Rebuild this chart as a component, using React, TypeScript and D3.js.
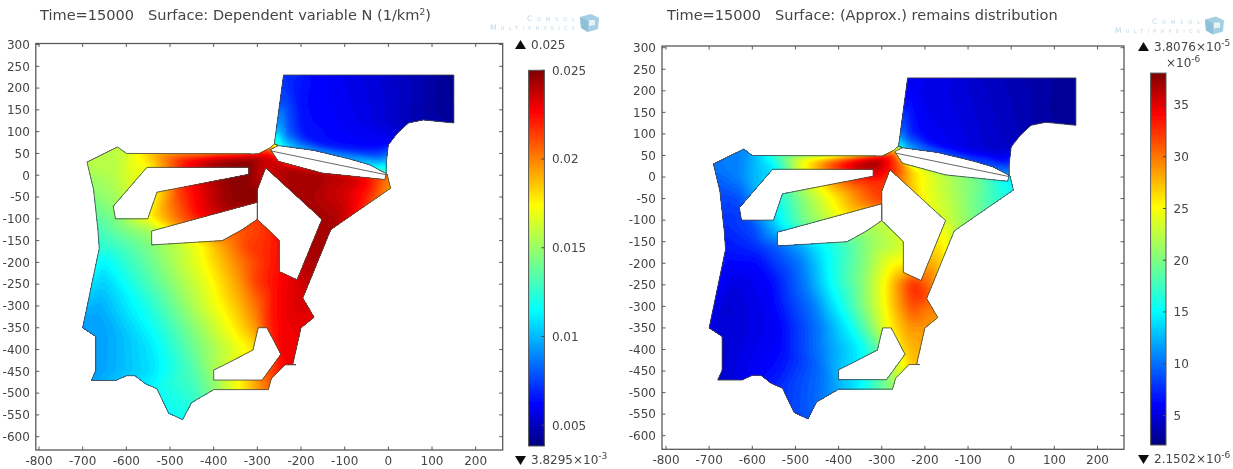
import React, { useMemo } from "react";
import * as d3 from "d3";

// ---------- data (domain coordinates in km, field samples) ----------
const xTicks = [-800, -700, -600, -500, -400, -300, -200, -100, 0, 100, 200];
const yTicks = [300, 250, 200, 150, 100, 50, 0, -50, -100, -150, -200, -250, -300, -350, -400, -450, -500, -550, -600];

const landOutline: [number, number][] = [
  [-690, 30], [-620, 65], [-600, 50], [-298, 49], [-272, 62], [-261, 72], [-252, 68], [-270, 59], [-252, 32],
  [-152, 5], [-8, -10], [-5, 4], [-3, 3], [5, -30], [-125, -120], [-132, -125], [-196, -282], [-170, -326],
  [-200, -350], [-219, -434], [-212, -435], [-237, -435], [-268, -467], [-275, -492], [-400, -492], [-451, -522],
  [-471, -561], [-503, -546], [-530, -490], [-557, -478], [-580, -460], [-600, -460], [-624, -471], [-680, -471],
  [-670, -448], [-670, -370], [-700, -350], [-662, -168], [-665, -125], [-675, -33],
];
const holeNorth: [number, number][] = [[-553, 18], [-320, 18], [-320, 2], [-530, -39], [-551, -100], [-625, -100], [-630, -71]];
const holeMiddle: [number, number][] = [[-300, -62], [-542, -128], [-542, -160], [-380, -150], [-335, -125], [-300, -101]];
const holeEast: [number, number][] = [[-281, 17], [-300, -33], [-300, -101], [-250, -150], [-250, -221], [-209, -240], [-152, -101]];
const holeSouth: [number, number][] = [[-298, -350], [-278, -350], [-246, -411], [-289, -470], [-400, -470], [-400, -447], [-375, -435], [-310, -401]];
const seaOutline: [number, number][] = [
  [-261, 72], [-240, 230], [150, 230], [150, 120], [80, 127], [46, 120], [21, 97], [0, 70], [-5, 28], [-5, 4],
  [-43, 24], [-88, 37], [-170, 57], [-252, 68],
];
const straitLine: [number, number][] = [[-270, 56], [-7, 1.5]];

// x, y, N (1/km^2), remains (x 1e-6)
const landSamples: [number, number, number, number][] = [
  [-690, 30, .0158, 10.5], [-620, 65, .016, 11], [-600, 50, .0165, 12.5], [-630, 0, .0158, 11], [-675, -33, .015, 9],
  [-600, -20, .0165, 12.5], [-665, -125, .0132, 7.5], [-625, -100, .0145, 8.5], [-630, -71, .015, 8.5], [-600, -115, .015, 9],
  [-551, -100, .0175, 14], [-542, -128, .0155, 13], [-553, 18, .0172, 14],
  [-575, 35, .0174, 14], [-525, 35, .0195, 19], [-488, 35, .0215, 25], [-462, 35, .0228, 28], [-406, 35, .0245, 34],
  [-350, 35, .025, 38], [-313, 35, .025, 38], [-298, 49, .0235, 36], [-285, 30, .0238, 34], [-320, 18, .025, 37],
  [-530, -39, .0178, 17.5], [-480, -50, .0215, 21], [-430, -50, .0232, 24.5], [-370, -40, .0247, 29], [-330, -30, .025, 32],
  [-301, -46, .025, 32.5], [-300, -62, .025, 32], [-320, 2, .025, 34],
  [-480, -109, .0205, 20], [-434, -94, .0228, 23], [-370, -75, .0247, 28],
  [-281, 17, .0235, 34], [-300, -10, .024, 33], [-270, 59, .021, 33], [-272, 62, .021, 30], [-261, 72, .016, 18], [-252, 68, .014, 15],
  [-270, 45, .0235, 32], [-252, 32, .024, 30], [-230, 15, .0245, 27], [-215, -8, .0245, 25.5], [-152, 5, .0245, 22.5],
  [-250, -20, .024, 29], [-200, -60, .0245, 25], [-152, -101, .0245, 23.5], [-100, -40, .0235, 20.5], [-70, -2, .0238, 19.5],
  [-40, -8, .0225, 17], [-8, -10, .0205, 15], [5, -30, .0195, 15.5], [-43, -48, .022, 17.5], [-125, -120, .0245, 22],
  [-140, -115, .0245, 24], [-180, -190, .0245, 28], [-209, -240, .0235, 31], [-196, -282, .0235, 32],
  [-662, -168, .0125, 7], [-600, -160, .0135, 7.8], [-542, -160, .0147, 9.8], [-480, -160, .016, 12.7], [-436, -160, .0172, 15], [-380, -160, .0195, 18], [-330, -160, .0215, 21], [-280, -160, .022, 22.5], [-250, -160, .0225, 24],
  [-300, -101, .0215, 23], [-335, -125, .021, 21.5],
  [-655, -200, .0113, 6.4], [-590, -200, .013, 6.5], [-489, -200, .0157, 10.6], [-430, -200, .0173, 15], [-334, -200, .0205, 21], [-281, -200, .022, 25], [-250, -200, .0225, 25.5],
  [-640, -250, .0108, 5.3], [-560, -250, .013, 6.3], [-480, -250, .0153, 10.6], [-425, -250, .0168, 15], [-340, -250, .0197, 21], [-299, -250, .0218, 25], [-265, -250, .0225, 29], [-228, -250, .0232, 33.5],
  [-665, -300, .0098, 4.8], [-560, -300, .012, 6], [-460, -300, .0152, 10.6], [-405, -300, .017, 15], [-350, -300, .0187, 20], [-297, -300, .0208, 25], [-265, -300, .0225, 28.5], [-228, -300, .0233, 32], [-198, -300, .0235, 30],
  [-700, -350, .0095, 5.5], [-640, -350, .0098, 5], [-540, -350, .0118, 6.2], [-445, -350, .0148, 10.6], [-378, -350, .017, 15], [-330, -350, .0187, 20], [-298, -350, .02, 24.5], [-278, -350, .022, 26], [-240, -350, .023, 29], [-200, -350, .0232, 29], [-170, -326, .0232, 29.5],
  [-670, -400, .0095, 4.8], [-540, -400, .0112, 6.3], [-445, -400, .0141, 10.6], [-350, -400, .0169, 15], [-310, -400, .0179, 19], [-246, -411, .023, 27], [-222, -400, .023, 28],
  [-670, -450, .0095, 5], [-600, -455, .0103, 6], [-540, -450, .011, 7], [-445, -450, .0135, 10], [-400, -447, .0155, 13],
  [-400, -492, .0148, 12.5], [-400, -470, .015, 13], [-348, -481, .0174, 15], [-307, -481, .0195, 19], [-275, -492, .0205, 21], [-289, -470, .0205, 20.5], [-268, -467, .0215, 23], [-246, -438, .0228, 26], [-219, -434, .023, 28],
  [-530, -490, .0118, 8], [-557, -478, .0112, 7.2], [-680, -471, .0097, 4.5], [-471, -561, .0118, 9], [-503, -546, .0118, 8.8], [-451, -522, .0125, 10],
];
const seaSamples: [number, number, number, number][] = [
  [-261, 72, .0135, 16], [-252, 68, .0125, 15], [-250, 85, .0105, 10], [-240, 100, .0085, 7.5], [-234, 70, .01, 11], [-200, 75, .0075, 7],
  [-161, 65, .0066, 6], [-200, 100, .0066, 6], [-240, 230, .0072, 6], [-160, 230, .0063, 5.5], [-200, 160, .0065, 5.7], [-116, 172, .0061, 5.2], [-60, 120, .0059, 4.8], [-70, 58, .0064, 5],
  [-25, 36, .0085, 6], [-5, 20, .0115, 9], [-5, 4, .0135, 12], [0, 70, .0061, 4.5], [-40, 230, .0056, 4.3], [20, 180, .0053, 4],
  [150, 230, .0042, 3], [150, 120, .0043, 3], [46, 120, .005, 3.8], [80, 127, .0047, 3.4], [70, 230, .0049, 3.5],
];

const rainbowStops = [0, 0.11, 0.36, 0.64, 0.89, 1];
const rainbowColors = ["#00007f", "#0000ff", "#00ffff", "#ffff00", "#ff0000", "#7f0000"];

const nBarTicks = [0.025, 0.02, 0.015, 0.01, 0.005];
const nBarLabels = ["0.025", "0.02", "0.015", "0.01", "0.005"];
const remainsBarTicks = [35, 30, 25, 20, 15, 10, 5];

// ---------- field ----------
type Row = [number, number, number, number];

function buildGrid(rows: Row[], col: 2 | 3, bbox: number[], step: number) {
  const [x0, y0, x1, y1] = bbox;
  const w = Math.ceil((x1 - x0) / step) + 1;
  const h = Math.ceil((y1 - y0) / step) + 1;
  const del = d3.Delaunay.from(rows, (r) => r[0], (r) => r[1]);
  const tri = del.triangles;
  const n = tri.length / 3;
  const data = new Float64Array(w * h);
  let last = 0;
  for (let j = 0; j < h; j++) {
    const py = y0 + j * step;
    for (let i = 0; i < w; i++) {
      const px = x0 + i * step;
      let val = NaN;
      for (let k = 0; k < n; k++) {
        const t = (k + last) % n;
        const a = rows[tri[3 * t]], b = rows[tri[3 * t + 1]], c = rows[tri[3 * t + 2]];
        const d = (b[1] - c[1]) * (a[0] - c[0]) + (c[0] - b[0]) * (a[1] - c[1]);
        const u = ((b[1] - c[1]) * (px - c[0]) + (c[0] - b[0]) * (py - c[1])) / d;
        const v = ((c[1] - a[1]) * (px - c[0]) + (a[0] - c[0]) * (py - c[1])) / d;
        const z = 1 - u - v;
        if (u >= -1e-9 && v >= -1e-9 && z >= -1e-9) {
          val = u * a[col] + v * b[col] + z * c[col];
          last = t;
          break;
        }
      }
      if (Number.isNaN(val)) val = rows[del.find(px, py)][col];
      data[j * w + i] = val;
    }
  }
  d3.blur2({ data, width: w, height: h }, 2.5);
  return { data, w, h };
}

const ringPath = (ring: [number, number][], x: any, y: any) =>
  "M" + ring.map((p) => `${x(p[0]).toFixed(2)},${y(p[1]).toFixed(2)}`).join("L") + "Z";

function FieldLayer({ rows, col, bbox, x, y, color, vmin, vmax, clipId, clipPath }: any) {
  const paths = useMemo(() => {
    const step = 3;
    const { data, w, h } = buildGrid(rows, col, bbox, step);
    const levels = d3.range(90).map((i) => vmin + ((vmax - vmin) * i) / 89);
    levels[0] = Math.min(levels[0], d3.min(data as any) as number) - 1e-9;
    const project = d3.geoPath(
      d3.geoTransform({
        point(this: any, gx: number, gy: number) {
          this.stream.point(x(bbox[0] + gx * step), y(bbox[1] + gy * step));
        },
      })
    );
    return d3.contours().size([w, h]).thresholds(levels)(data as any).map((c: any) => ({ d: project(c) as string, v: c.value }));
  }, [rows, col]);
  return (
    <g>
      <clipPath id={clipId}>
        <path d={clipPath} clipRule="evenodd" />
      </clipPath>
      <g clipPath={`url(#${clipId})`}>
        {paths.map((p: any, i: number) =>
          p.d ? <path key={i} d={p.d} fill={color(p.v)} fillRule="evenodd" stroke="none" /> : null
        )}
      </g>
    </g>
  );
}

function Sup({ children }: { children: string }) {
  return (
    <tspan dy={-5} fontSize={9}>
      {children}
    </tspan>
  );
}

function Cube({ x, y }: { x: number; y: number }) {
  return (
    <g transform={`translate(${x},${y})`}>
      <polygon points="0,3 11,0 19,4 18,15 8,18 1,14" fill="#a5cfe2" />
      <polygon points="0,3 8,7 8,18 1,14" fill="#8fc0d8" />
      <polygon points="9,6 15,6 15,11 9,12" fill="#e8f3f8" />
    </g>
  );
}

function Plot({ idx, col, L, title, titleSup, titleEnd, barTicks, barLabels, vmin, vmax }: any) {
  const x = d3.scaleLinear().domain([-800, 200]).range(L.xr);
  const y = d3.scaleLinear().domain([-600, 300]).range(L.yr);
  const barY = d3.scaleLinear().domain([vmin, vmax]).range([L.bar[3], L.bar[1]]);
  const color = d3
    .scaleLinear<string>()
    .domain(rainbowStops.map((s) => vmin + s * (vmax - vmin)))
    .range(rainbowColors)
    .clamp(true);
  const [fx0, fy0, fx1, fy1] = L.frame;
  const landPath = [landOutline, holeNorth, holeMiddle, holeEast, holeSouth].map((r) => ringPath(r, x, y)).join(" ");
  const seaPath = ringPath(seaOutline, x, y);
  const gid = `rainbow-${idx}`;
  const txt = "#444";
  const tickC = "#5a5a5a";
  const line = "#4a4a4a";
  return (
    <g>
      <text x={L.titleX} y={20} fontSize={14.55} fill={txt} style={{ whiteSpace: "pre" }}>
        {title}
        {titleSup ? <tspan dy={-5.5} fontSize={9}>{titleSup}</tspan> : null}
        {titleEnd ? <tspan dy={5.5}>{titleEnd}</tspan> : null}
      </text>
      <text x={L.logoX} y={L.logoY} fontSize={7.5} fill="#bcd7e6" textAnchor="end" textLength={48} lengthAdjust="spacing" style={{ fontVariant: "small-caps" }}>Comsol</text>
      <text x={L.logoX} y={L.logoY + 9} fontSize={7.5} fill="#bcd7e6" textAnchor="end" textLength={85} lengthAdjust="spacing" style={{ fontVariant: "small-caps" }}>Multiphysics</text>
      <Cube x={L.logoX + 5} y={L.logoY - 7} />

      <FieldLayer rows={landSamples} col={col} bbox={[-712, -575, 18, 85]} x={x} y={y} color={color} vmin={vmin} vmax={vmax} clipId={`land-${idx}`} clipPath={landPath} />
      <FieldLayer rows={seaSamples} col={col} bbox={[-275, -6, 162, 242]} x={x} y={y} color={color} vmin={vmin} vmax={vmax} clipId={`sea-${idx}`} clipPath={seaPath} />
      <path d={landPath} fill="none" stroke={line} strokeWidth={0.85} strokeLinejoin="round" />
      <path d={seaPath} fill="none" stroke={line} strokeWidth={0.85} strokeLinejoin="round" />
      <line x1={x(straitLine[0][0])} y1={y(straitLine[0][1])} x2={x(straitLine[1][0])} y2={y(straitLine[1][1])} stroke={line} strokeWidth={0.85} />

      <rect x={fx0} y={fy0} width={fx1 - fx0} height={fy1 - fy0} fill="none" stroke={tickC} strokeWidth={1.3} />
      {xTicks.map((t) => (
        <g key={t}>
          <line x1={x(t)} x2={x(t)} y1={fy0} y2={fy0 + 3.5} stroke={tickC} />
          <line x1={x(t)} x2={x(t)} y1={fy1} y2={fy1 - 3.5} stroke={tickC} />
          <text x={x(t)} y={fy1 + 14.5} fontSize={12} textAnchor="middle" fill={txt}>{t}</text>
        </g>
      ))}
      {yTicks.map((t) => (
        <g key={t}>
          <line y1={y(t)} y2={y(t)} x1={fx0} x2={fx0 + 3.5} stroke={tickC} />
          <line y1={y(t)} y2={y(t)} x1={fx1} x2={fx1 - 3.5} stroke={tickC} />
          <text x={fx0 - 6} y={y(t) + 4.3} fontSize={12} textAnchor="end" fill={txt}>{t}</text>
        </g>
      ))}

      <linearGradient id={gid} x1="0" y1="1" x2="0" y2="0">
        {rainbowStops.map((s, i) => (
          <stop key={i} offset={s} stopColor={rainbowColors[i]} />
        ))}
      </linearGradient>
      <rect x={L.bar[0]} y={L.bar[1]} width={L.bar[2] - L.bar[0]} height={L.bar[3] - L.bar[1]} fill={`url(#${gid})`} stroke="#555" strokeWidth={1} />
      {barTicks.map((t: number, i: number) => (
        <g key={t}>
          <line x1={L.bar[2]} x2={L.bar[2] - 3} y1={barY(t)} y2={barY(t)} stroke="#444" />
          <text x={L.bar[2] + 7.5} y={barY(t) + 4.3} fontSize={12} fill={txt}>{barLabels[i]}</text>
        </g>
      ))}
      <path d={`M${L.tri},${L.maxY + 4}h11l-5.5,-9Z`} fill="#111" />
      <path d={`M${L.tri},${L.minY - 4}h11l-5.5,9Z`} fill="#111" />
      <text x={L.tri + 16} y={L.maxY + 4.3} fontSize={12} fill={txt}>
        {L.maxText}
        {L.maxSup ? <Sup>{L.maxSup}</Sup> : null}
      </text>
      <text x={L.tri + 16} y={L.minY + 4.3} fontSize={12} fill={txt}>
        {L.minText}
        <Sup>{L.minSup}</Sup>
      </text>
      {L.unit ? (
        <text x={L.unitX} y={L.unitY} fontSize={12} fill={txt}>
          ×10<Sup>-6</Sup>
        </text>
      ) : null}
    </g>
  );
}

const leftLayout = {
  xr: [39, 475.7], yr: [436.7, 44.5], frame: [35.8, 43.5, 502.7, 450], bar: [528.6, 70.3, 544.4, 446],
  titleX: 40, logoX: 575, logoY: 21, tri: 515, maxY: 45, minY: 460,
  maxText: "0.025", maxSup: "", minText: "3.8295×10", minSup: "-3",
};
const rightLayout = {
  xr: [666, 1097.5], yr: [435.7, 47.7], frame: [662, 46, 1124, 449.3], bar: [1150.6, 73.1, 1166, 445],
  titleX: 667, logoX: 1200, logoY: 23.5, tri: 1138, maxY: 47, minY: 459,
  maxText: "3.8076×10", maxSup: "-5", minText: "2.1502×10", minSup: "-6", unit: true, unitX: 1166, unitY: 67,
};

export default function App() {
  return (
    <svg width={1233} height={469} viewBox="0 0 1233 469" style={{ position: "absolute", left: 0, top: 0, background: "#fff" }} fontFamily="'DejaVu Sans', sans-serif">
      <filter id="soft" x="0" y="0" width="100%" height="100%">
        <feGaussianBlur stdDeviation="0.55" />
      </filter>
      <g filter="url(#soft)">
        <rect width={1233} height={469} fill="#fff" />
        <Plot idx={0} col={2} L={leftLayout} title={"Time=15000   Surface: Dependent variable N (1/km"} titleSup="2" titleEnd=")" barTicks={nBarTicks} barLabels={nBarLabels} vmin={0.0038295} vmax={0.025} />
        <Plot idx={1} col={3} L={rightLayout} title={"Time=15000   Surface: (Approx.) remains distribution"} barTicks={remainsBarTicks} barLabels={remainsBarTicks.map(String)} vmin={2.1502} vmax={38.076} />
      </g>
    </svg>
  );
}
